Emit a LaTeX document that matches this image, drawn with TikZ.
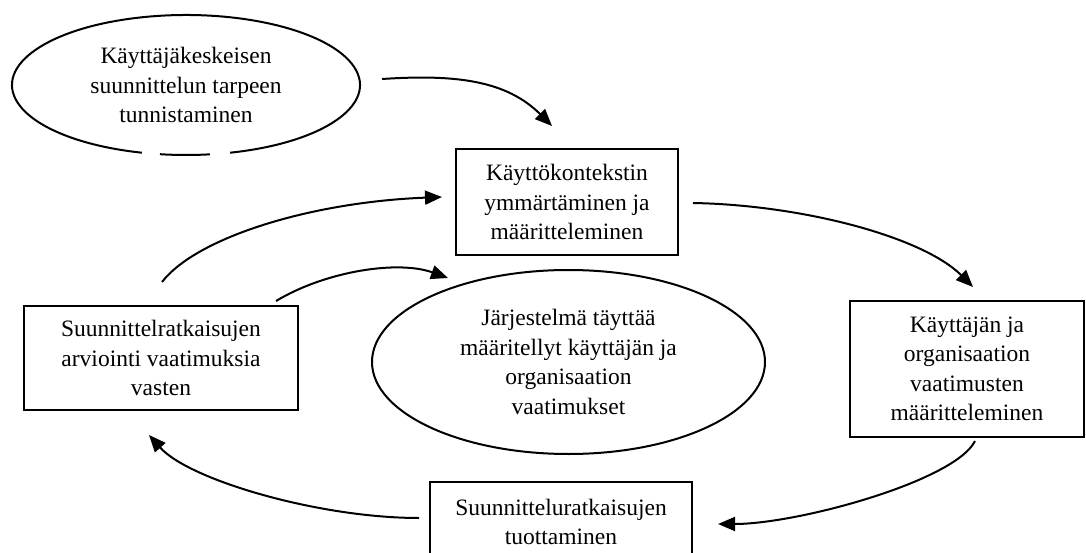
\documentclass[tikz,border=0pt]{standalone}
\usepackage{fontspec}
\setmainfont{Liberation Serif}
\usetikzlibrary{arrows.meta,shapes.geometric,calc}

\begin{document}
\begin{tikzpicture}[x=1pt,y=-1pt,
  every node/.style={font=\fontsize{23.5}{29.5}\selectfont, align=center, inner sep=0pt},
  stepbox/.style={draw, line width=2pt, rectangle},
  goal/.style={draw, line width=2pt, ellipse},
  flow/.style={line width=2pt, -{Triangle[length=17pt,width=14pt]}},
  rim/.style={line width=2pt},
]
\useasboundingbox (0,0) rectangle (1086,553);
\fill[white] (0,0) rectangle (1086,553);

% starting point: ellipse with a broken lower rim
\node[ellipse, minimum width=348pt, minimum height=141pt] (e1) at (186,85)
  {Käyttäjäkeskeisen\\suunnittelun tarpeen\\tunnistaminen};
\draw[rim] (e1.center) ++(284.7:174pt and 70pt)
  arc[start angle=284.7, end angle=615.3, x radius=174pt, y radius=70pt];
\draw[rim] (e1.center) ++(261.4:174pt and 70pt)
  arc[start angle=261.4, end angle=277.9, x radius=174pt, y radius=70pt];

% process steps
\node[stepbox, minimum width=222pt, minimum height=106pt] (b1) at (567,202)
  {Käyttökontekstin\\ymmärtäminen ja\\määritteleminen};
\node[stepbox, minimum width=234pt, minimum height=136pt] (b3) at (967,369)
  {Käyttäjän ja\\organisaation\\vaatimusten\\määritteleminen};
\node[stepbox, minimum width=262pt, minimum height=120pt] (b4) at (561,542) {};
\node (b4t) at ($(b4.north)+(0,41)$) {Suunnitteluratkaisujen\\tuottaminen};
\node[stepbox, minimum width=274pt, minimum height=104pt] (b2) at (161,358)
  {Suunnittelratkaisujen\\arviointi vaatimuksia\\vasten};

% goal in the middle
\node[goal, minimum width=393pt, minimum height=184pt] (e2) at (568.5,362)
  {Järjestelmä täyttää\\määritellyt käyttäjän ja\\organisaation\\vaatimukset};

% arrow end points
\coordinate (a1s) at ($(e1.east)+(22,-6)$);
\coordinate (a1e) at ($(b1.north)+(-15,-22)$);
\coordinate (a2s) at ($(b1.east)+(14,1)$);
\coordinate (a2e) at ($(b3.north)+(6,-13)$);
\coordinate (a3s) at ($(b3.south)+(8,3)$);
\coordinate (a3e) at ($(b4.north east)+(25,43)$);
\coordinate (a4s) at ($(b4.north west)+(-10,37)$);
\coordinate (a4e) at ($(b2.south)+(-12,24)$);
\coordinate (a5s) at ($(b2.north)+(1,-23)$);
\coordinate (a5e) at ($(b1.west)+(-13,-5)$);
\coordinate (a6s) at ($(b2.north east)+(-23,-4)$);
\coordinate (a6e) at ($(e2.north)+(-120.5,9)$);

% cycle arrows
\draw[flow] (a1s) .. controls +(75,-5) and +(-45,-45) .. (a1e);
\draw[flow] (a2s) .. controls +(110,2) and +(-50,-50) .. (a2e);
\draw[flow] (a3s) .. controls +(-20,40) and +(80,0) .. (a3e);
\draw[flow] (a4s) .. controls +(-100,0) and +(40,45) .. (a4e);
\draw[flow] (a5s) .. controls +(35,-45) and +(-130,5) .. (a5e);
\draw[flow] (a6s) .. controls +(50,-30) and +(-50,-18) .. (a6e);
\end{tikzpicture}
\end{document}
